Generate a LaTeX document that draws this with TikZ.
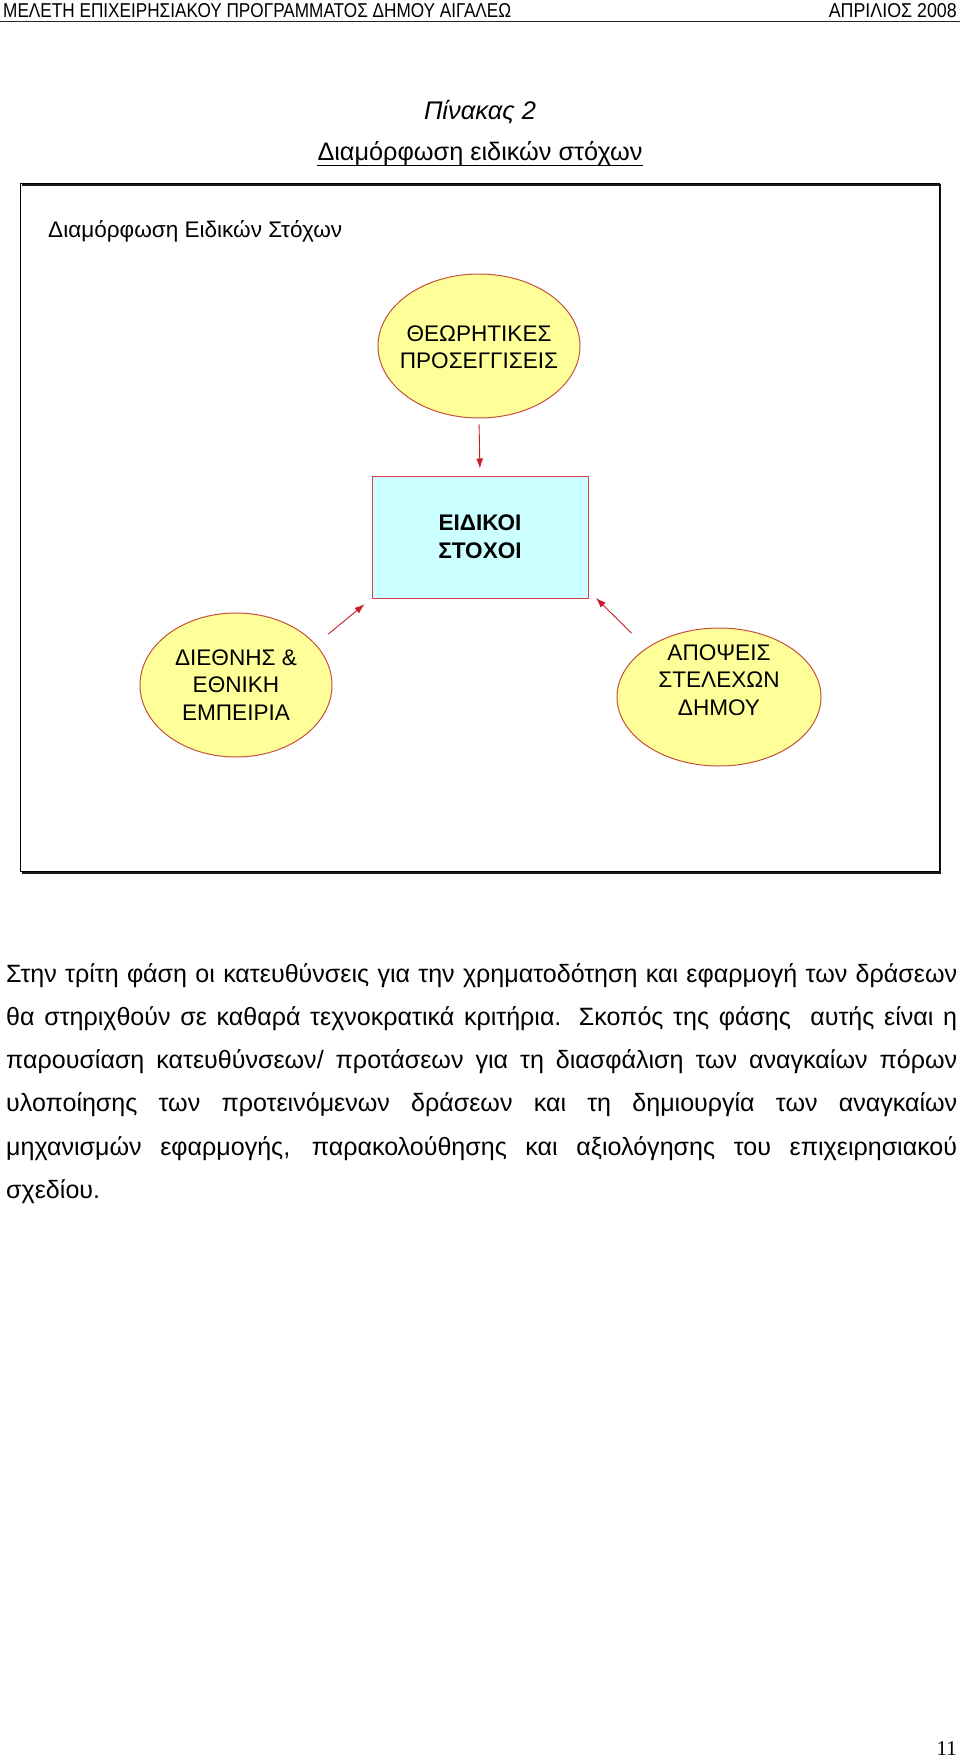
\documentclass[tikz,border=0pt]{standalone}
\usepackage{graphicx}
\usepackage{fontspec}
\setmainfont{Liberation Sans}
\newfontfamily\numfont{Liberation Serif}
\usetikzlibrary{arrows.meta,shapes.geometric,calc}
\definecolor{ellfill}{RGB}{255,255,153}
\definecolor{ellline}{RGB}{196,80,60}
\definecolor{boxfill}{RGB}{204,255,255}
\definecolor{boxline}{RGB}{214,64,72}
\definecolor{arrline}{RGB}{200,30,40}
\newlength\fitlen
\newcommand\fitsize[3]{\settowidth\fitlen{\fontsize{10}{12}\selectfont #3}\pgfmathsetmacro#1{10*#2/\fitlen}}
\begin{document}
\fitsize\psize{936}{Στην τρίτη φάση οι κατευθύνσεις για την χρηματοδότηση και εφαρμογή των δράσεων}
\fitsize\dsize{145}{ΘΕΩΡΗΤΙΚΕΣ}
\fitsize\fsize{294}{Διαμόρφωση Ειδικών Στόχων}
\fitsize\tsize{325}{Διαμόρφωση ειδικών στόχων}
\fitsize\isize{112}{\itshape Πίνακας 2}
\begin{tikzpicture}[x=1pt,y=-1pt,
  ellshape/.style={ellipse, draw=ellline, fill=ellfill, line width=1pt, inner sep=0pt},
  dtext/.style={align=center, inner sep=0pt, font=\fontsize{\dsize}{27.5}\selectfont},
  arrow/.style={draw=arrline, line width=0.9pt, -{Latex[length=10pt,width=7pt]}},
  txt/.style={inner sep=0pt}]
\useasboundingbox (0,0) rectangle (960,1761);
\fill[white] (0,0) rectangle (960,1761);
% header
\node[txt, anchor=base west] (hdrL) at (3,17.5) {\resizebox{508pt}{14pt}{ΜΕΛΕΤΗ ΕΠΙΧΕΙΡΗΣΙΑΚΟΥ ΠΡΟΓΡΑΜΜΑΤΟΣ ΔΗΜΟΥ ΑΙΓΑΛΕΩ}};
\node[txt, anchor=base east] (hdrR) at (957,17.5) {\resizebox{128pt}{14pt}{ΑΠΡΙΛΙΟΣ 2008}};
\draw[line width=1.6pt, black!85] (0,21.5) -- (960,21.5);
% titles
\node[txt, anchor=base] (t1) at (480,119) {\fontsize{\isize}{28}\selectfont\itshape Πίνακας 2};
\node[txt, anchor=base] (t2) at (480,160) {\fontsize{\tsize}{28}\selectfont Διαμόρφωση ειδικών στόχων};
\draw[line width=1pt] ($(t2.base west)+(0,5.5)$) -- ($(t2.base east)+(0,5.5)$);
% frame
\draw[line width=2pt, black!90] (22,185) -- (940,185) -- (940,873) -- (22,873);
\draw[line width=1pt] (20,183) rectangle (939,871);
\node[txt, anchor=base west] (ft) at (48,237) {\fontsize{\fsize}{26}\selectfont Διαμόρφωση Ειδικών Στόχων};
% diagram
\node[ellshape, minimum width=202, minimum height=144] (top) at (479,346) {};
\node[dtext] (topt) at (479,347) {ΘΕΩΡΗΤΙΚΕΣ\\ΠΡΟΣΕΓΓΙΣΕΙΣ};
\node[draw=boxline, fill=boxfill, line width=1pt, minimum width=216, minimum height=122, inner sep=0pt] (goal) at (480,537) {};
\node[dtext, font=\fontsize{\dsize}{28}\selectfont\bfseries] (goalt) at (480,537) {ΕΙΔΙΚΟΙ\\ΣΤΟΧΟΙ};
\node[ellshape, minimum width=192, minimum height=144] (left) at (236,685) {};
\node[dtext] (leftt) at (236,685) {ΔΙΕΘΝΗΣ \&\\ΕΘΝΙΚΗ\\ΕΜΠΕΙΡΙΑ};
\node[ellshape, minimum width=204, minimum height=138] (right) at (719,697) {};
\node[dtext] (rightt) at (719,680) {ΑΠΟΨΕΙΣ\\ΣΤΕΛΕΧΩΝ\\ΔΗΜΟΥ};
\draw[arrow, shorten <=6pt, shorten >=7pt] (top.south) -- (goal.north);
\draw[arrow, shorten <=16pt, shorten >=9pt] (left.27) -- (goal.south west);
\coordinate (rtip) at (596,598);
\draw[arrow, shorten <=21pt] (right.146) -- (rtip);
% paragraph
\node[txt, anchor=north west, text width=951pt, align=justify] (para) at (6,963) {\fontsize{\psize}{43.3}\selectfont
Στην τρίτη φάση οι κατευθύνσεις για την χρηματοδότηση και εφαρμογή των δράσεων\linebreak
θα στηριχθούν σε καθαρά τεχνοκρατικά κριτήρια. Σκοπός της φάσης\ \ αυτής είναι η\linebreak
παρουσίαση κατευθύνσεων/ προτάσεων για τη διασφάλιση των αναγκαίων πόρων\linebreak
υλοποίησης των προτεινόμενων δράσεων και τη δημιουργία των αναγκαίων\linebreak
μηχανισμών εφαρμογής, παρακολούθησης και αξιολόγησης του επιχειρησιακού\linebreak
σχεδίου.\par};
% page number
\node[txt, anchor=base east] (pg) at (957,1755) {\numfont\fontsize{21}{24}\selectfont 11};
\end{tikzpicture}
\end{document}
